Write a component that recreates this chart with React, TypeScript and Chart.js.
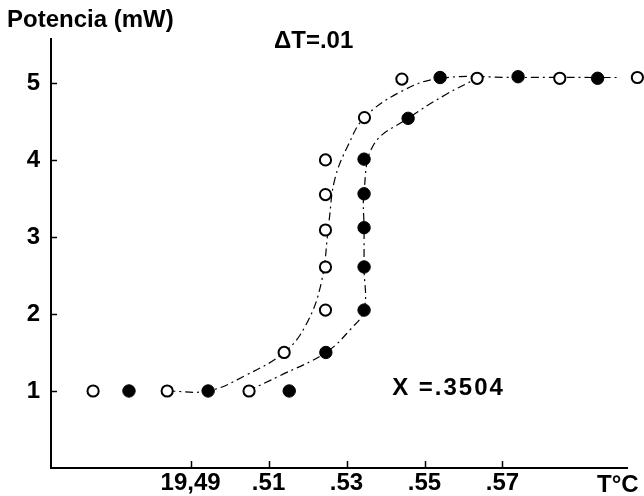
import React, { useEffect, useRef } from "react";
import { Chart, registerables } from "chart.js";

Chart.register(...registerables);

// ---- Data ----
const xTickValues = [19.49, 19.51, 19.53, 19.55, 19.57];
const xTickLabels = ["19,49", ".51", ".53", ".55", ".57"];
const yTickValues = [1, 2, 3, 4, 5];
const yTickLabels = ["1", "2", "3", "4", "5"];

// open circles
const openX = [19.465, 19.484, 19.505, 19.514, 19.5246, 19.5246, 19.5246, 19.5246, 19.5246, 19.5346, 19.5442, 19.5635, 19.5847, 19.6046];
const openY = [1.0, 1.0, 1.0, 1.5, 2.05, 2.61, 3.09, 3.55, 4.0, 4.55, 5.05, 5.06, 5.06, 5.07];

// filled circles
const filledX = [19.4742, 19.4945, 19.5153, 19.5247, 19.5345, 19.5345, 19.5345, 19.5345, 19.5345, 19.5458, 19.554, 19.574, 19.5944];
const filledY = [1.0, 1.0, 1.0, 1.5, 2.05, 2.61, 3.12, 3.56, 4.01, 4.54, 5.07, 5.08, 5.06];

// hand-drawn fit curves (dash-dot)
const curveAX = [19.484, 19.4945, 19.504, 19.514, 19.5195, 19.5235, 19.5255, 19.527, 19.5305, 19.5346, 19.5437, 19.554, 19.574, 19.6];
const curveAY = [1.0, 1.0, 1.2, 1.5, 1.85, 2.4, 3.2, 3.75, 4.2, 4.55, 4.88, 5.06, 5.07, 5.07];
const curveBX = [19.5047, 19.513, 19.5247, 19.531, 19.5345, 19.5345, 19.5345, 19.5345, 19.537, 19.5458, 19.5555, 19.5635];
const curveBY = [1.0, 1.2, 1.5, 1.8, 2.05, 2.6, 3.1, 3.6, 4.2, 4.54, 4.85, 5.06];

const xMin = 19.4542;
const xMax = 19.6063;
const xAxisEnd = 19.6022;
const yMin = 0;
const yMax = 5.57;

const yTitle = "Potencia (mW)";
const deltaText = "\u0394T=.01";
const xText = "X =.3504";
const xUnit = "T\u00B0C";

const FONT = "'Liberation Sans', Arial, Helvetica, sans-serif";

const zip = (xs: number[], ys: number[]) => xs.map((x, i) => ({ x, y: ys[i] }));

const decorPlugin = {
  id: "decor",
  afterDraw(chart: any) {
    const ctx = chart.ctx as CanvasRenderingContext2D;
    const xs = chart.scales.x;
    const ys = chart.scales.y;
    const area = chart.chartArea;
    ctx.save();
    ctx.strokeStyle = "#000";
    // x axis line (ends before the canvas edge)
    ctx.lineWidth = 2;
    ctx.beginPath();
    ctx.moveTo(area.left - 1, area.bottom);
    ctx.lineTo(xs.getPixelForValue(xAxisEnd), area.bottom);
    ctx.stroke();
    // inward tick marks
    ctx.lineWidth = 1.5;
    xTickValues.forEach((v) => {
      const px = Math.round(xs.getPixelForValue(v)) + 0.5;
      ctx.beginPath();
      ctx.moveTo(px, area.bottom);
      ctx.lineTo(px, area.bottom - 7);
      ctx.stroke();
    });
    yTickValues.forEach((v) => {
      const py = Math.round(ys.getPixelForValue(v)) + 0.5;
      ctx.beginPath();
      ctx.moveTo(area.left, py);
      ctx.lineTo(area.left + 6, py);
      ctx.stroke();
    });
    // texts
    ctx.fillStyle = "#000";
    ctx.textBaseline = "middle";
    ctx.textAlign = "left";
    ctx.font = `bold 24px ${FONT}`;
    ctx.fillText(yTitle, 7, 20);
    ctx.fillText(deltaText, 274, 41);
    ctx.fillText(xUnit, 597, 485);
    (ctx as any).letterSpacing = "2px";
    ctx.fillText(xText, xs.getPixelForValue(19.5417), ys.getPixelForValue(1.04));
    ctx.restore();
  },
};

export default function App() {
  const ref = useRef<HTMLCanvasElement | null>(null);
  useEffect(() => {
    if (!ref.current) return;
    const chart = new Chart(ref.current, {
      type: "scatter",
      data: {
        datasets: [
          {
            label: "curveA",
            data: zip(curveAX, curveAY),
            showLine: true,
            borderColor: "#000",
            borderWidth: 1.2,
            borderDash: [8, 4, 2, 4],
            pointRadius: 0,
            tension: 0.4,
            order: 3,
          },
          {
            label: "curveB",
            data: zip(curveBX, curveBY),
            showLine: true,
            borderColor: "#000",
            borderWidth: 1.2,
            borderDash: [8, 4, 2, 4],
            pointRadius: 0,
            tension: 0.4,
            order: 3,
          },
          {
            label: "open",
            data: zip(openX, openY),
            pointRadius: 5.6,
            pointBorderWidth: 2,
            pointBackgroundColor: "#fff",
            pointBorderColor: "#000",
            clip: false,
            order: 1,
          } as any,
          {
            label: "filled",
            data: zip(filledX, filledY),
            pointRadius: 6.2,
            pointBorderWidth: 1,
            pointBackgroundColor: "#000",
            pointBorderColor: "#000",
            clip: false,
            order: 1,
          } as any,
        ],
      },
      options: {
        animation: false,
        responsive: false,
        devicePixelRatio: 1,
        layout: { autoPadding: false, padding: { top: 39, right: 0, left: 0, bottom: 0 } },
        plugins: { legend: { display: false }, tooltip: { enabled: false } },
        scales: {
          x: {
            type: "linear",
            min: xMin,
            max: xMax,
            afterBuildTicks: (s: any) => {
              s.ticks = xTickValues.map((v) => ({ value: v }));
            },
            afterFit: (s: any) => {
              s.height = 28;
            },
            grid: { display: false, drawTicks: false },
            border: { display: false },
            ticks: {
              autoSkip: false,
              maxRotation: 0,
              padding: 1,
              color: "#000",
              font: { family: FONT, size: 24, weight: "bold" },
              callback: (v: any) => {
                const i = xTickValues.findIndex((t) => Math.abs(t - Number(v)) < 1e-6);
                return i >= 0 ? xTickLabels[i] : "";
              },
            },
          },
          y: {
            type: "linear",
            min: yMin,
            max: yMax,
            afterBuildTicks: (s: any) => {
              s.ticks = yTickValues.map((v) => ({ value: v }));
            },
            afterFit: (s: any) => {
              s.width = 51;
            },
            grid: { display: false, drawTicks: false },
            border: { display: true, color: "#000", width: 2 },
            ticks: {
              autoSkip: false,
              padding: 11,
              color: "#000",
              font: { family: FONT, size: 24, weight: "bold" },
              callback: (v: any) => {
                const i = yTickValues.findIndex((t) => Math.abs(t - Number(v)) < 1e-6);
                return i >= 0 ? yTickLabels[i] : "";
              },
            },
          },
        },
      },
      plugins: [decorPlugin],
    });
    return () => chart.destroy();
  }, []);
  return (
    <div style={{ position: "fixed", left: 0, top: 0, width: 644, height: 496, background: "#fff" }}>
      <canvas ref={ref} width={644} height={496} style={{ display: "block" }} />
    </div>
  );
}
